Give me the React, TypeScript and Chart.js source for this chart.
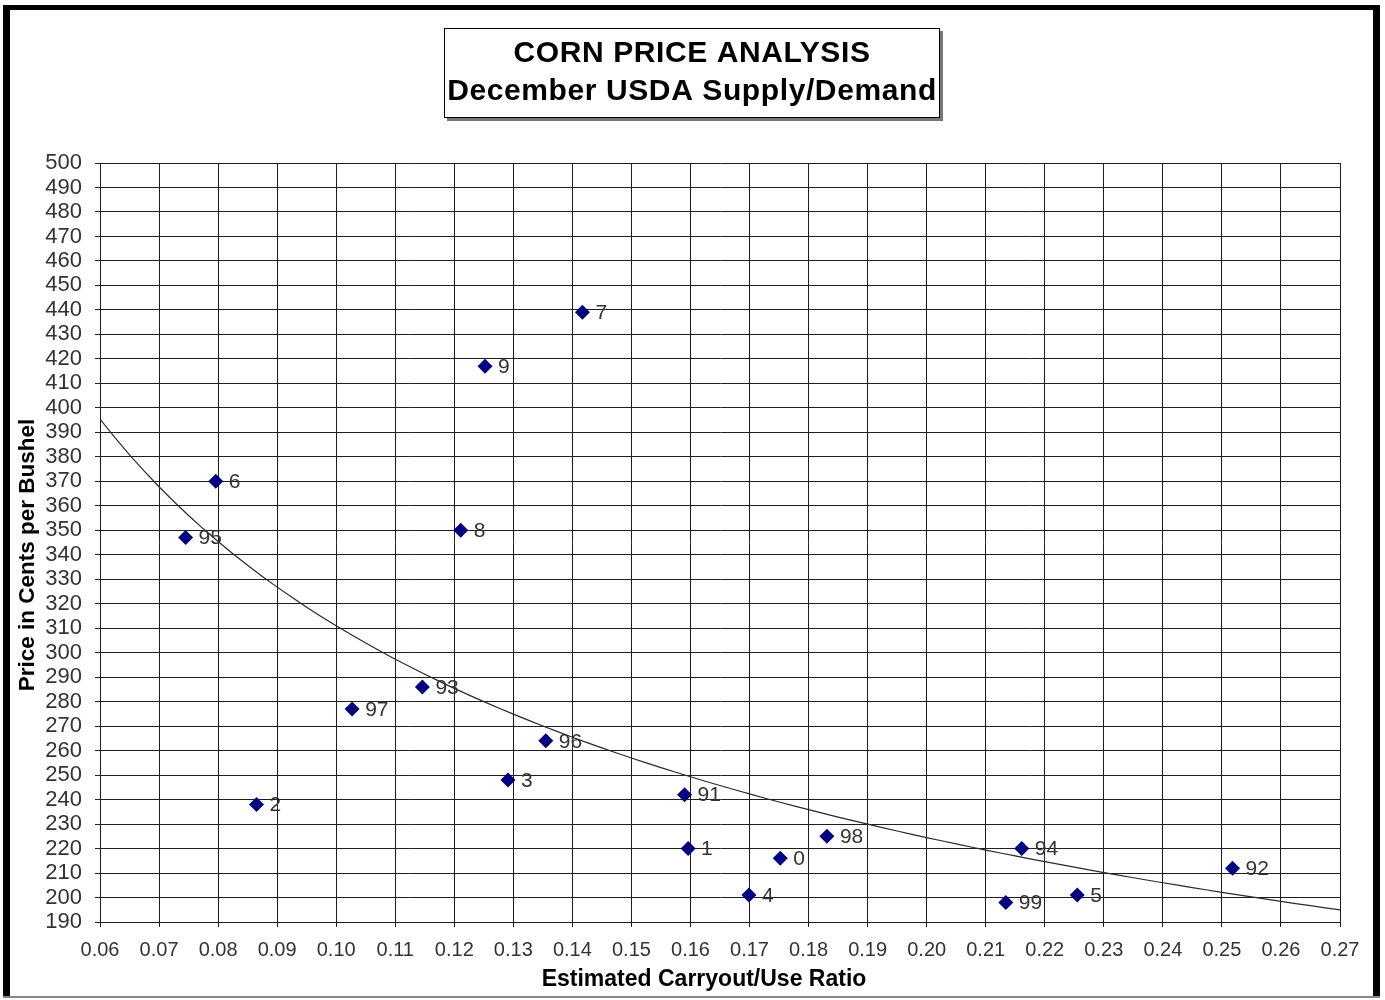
import React, { useEffect, useRef } from "react";
import { Chart, registerables } from "chart.js";

Chart.register(...registerables);

// ---- data ----
const yearLabels = ["7", "9", "6", "95", "8", "93", "97", "96", "3", "2", "91", "1", "0", "98", "4", "99", "94", "5", "92"];
const carryoutRatios = [0.1417, 0.1252, 0.0796, 0.0745, 0.1211, 0.1146, 0.1027, 0.1355, 0.1291, 0.0865, 0.159, 0.1596, 0.1752, 0.1831, 0.1699, 0.2134, 0.2161, 0.2255, 0.2518];
const pricesCents = [439, 417, 370, 347, 350, 286, 277, 264, 248, 238, 242, 220, 216, 225, 201, 198, 220, 201, 212];

const xTickValues = [0.06, 0.07, 0.08, 0.09, 0.1, 0.11, 0.12, 0.13, 0.14, 0.15, 0.16, 0.17, 0.18, 0.19, 0.2, 0.21, 0.22, 0.23, 0.24, 0.25, 0.26, 0.27];
const yTickValues = [190, 200, 210, 220, 230, 240, 250, 260, 270, 280, 290, 300, 310, 320, 330, 340, 350, 360, 370, 380, 390, 400, 410, 420, 430, 440, 450, 460, 470, 480, 490, 500];

const titleLines = ["CORN PRICE ANALYSIS", "December USDA Supply/Demand"];
const xAxisTitle = "Estimated Carryout/Use Ratio";
const yAxisTitle = "Price in Cents per Bushel";

// Power trendline (least squares fit of ln y on ln x), as Excel does
function powerFit(xs: number[], ys: number[]) {
  const n = xs.length;
  const lx = xs.map(Math.log);
  const ly = ys.map(Math.log);
  const mx = lx.reduce((a, b) => a + b, 0) / n;
  const my = ly.reduce((a, b) => a + b, 0) / n;
  let sxy = 0, sxx = 0;
  for (let i = 0; i < n; i++) {
    sxy += (lx[i] - mx) * (ly[i] - my);
    sxx += (lx[i] - mx) * (lx[i] - mx);
  }
  const b = sxy / sxx;
  const a = Math.exp(my - b * mx);
  return { a, b };
}

const FONT = "'Liberation Sans', Arial, Helvetica, sans-serif";
const W = 1385;
const H = 1000;

export default function App() {
  const ref = useRef<HTMLCanvasElement | null>(null);

  useEffect(() => {
    const canvas = ref.current;
    if (!canvas) return;
    const fit = powerFit(carryoutRatios, pricesCents);
    const xMin = xTickValues[0];
    const xMax = xTickValues[xTickValues.length - 1];
    const trend: { x: number; y: number }[] = [];
    const steps = 84;
    for (let i = 0; i <= steps; i++) {
      const x = xMin + ((xMax - xMin) * i) / steps;
      trend.push({ x, y: fit.a * Math.pow(x, fit.b) });
    }

    const framePlugin = {
      id: "frame",
      beforeDraw(chart: any) {
        const ctx = chart.ctx;
        ctx.save();
        ctx.fillStyle = "#ffffff";
        ctx.fillRect(0, 0, W, H);
        ctx.restore();
      },
      afterDraw(chart: any) {
        const ctx = chart.ctx;
        ctx.save();
        // outer frame
        ctx.fillStyle = "#000000";
        ctx.fillRect(3, 5, 1377, 5);
        ctx.fillRect(3, 5, 7, 993);
        ctx.fillRect(1373, 5, 7, 993);
        ctx.fillStyle = "#888888";
        ctx.fillRect(3, 996, 1377, 2);

        // title box
        const bx = 444, by = 28, bw = 496, bh = 90;
        ctx.fillStyle = "#777777";
        ctx.fillRect(bx + 3, by + 3, bw, bh);
        ctx.fillStyle = "#ffffff";
        ctx.fillRect(bx, by, bw, bh);
        ctx.strokeStyle = "#000000";
        ctx.lineWidth = 1;
        ctx.strokeRect(bx + 0.5, by + 0.5, bw - 1, bh - 1);
        ctx.fillStyle = "#000000";
        ctx.textAlign = "center";
        ctx.textBaseline = "middle";
        ctx.font = `bold 30px ${FONT}`;
        try { (ctx as any).letterSpacing = "0.6px"; } catch (e) {}
        ctx.fillText(titleLines[0], 692, 54);
        ctx.fillText(titleLines[1], 692, 92);
        try { (ctx as any).letterSpacing = "0px"; } catch (e) {}

        // axis titles
        ctx.font = `bold 23px ${FONT}`;
        ctx.fillText(xAxisTitle, 704, 980);
        ctx.font = `bold 22.5px ${FONT}`;
        ctx.translate(28, 555);
        ctx.rotate(-Math.PI / 2);
        ctx.fillText(yAxisTitle, 0, 0);
        ctx.restore();
      },
      afterDatasetsDraw(chart: any) {
        const ctx = chart.ctx;
        const meta = chart.getDatasetMeta(0);
        ctx.save();
        ctx.fillStyle = "#333333";
        ctx.font = `21px ${FONT}`;
        ctx.textAlign = "left";
        ctx.textBaseline = "middle";
        meta.data.forEach((pt: any, i: number) => {
          ctx.fillText(yearLabels[i], pt.x + 13, pt.y + 1);
        });
        ctx.restore();
      },
    };

    const gridColor = "#1e1e1e";

    const chart = new Chart(canvas, {
      type: "scatter",
      data: {
        datasets: [
          {
            label: "Price",
            data: carryoutRatios.map((x, i) => ({ x, y: pricesCents[i] })),
            pointStyle: "rectRot",
            pointRadius: 7.5,
            pointBorderWidth: 0,
            backgroundColor: "#000080",
            borderColor: "#000080",
            showLine: false,
          },
          {
            label: "Trend",
            data: trend,
            showLine: true,
            pointRadius: 0,
            borderColor: "#2a2a2a",
            borderWidth: 1.2,
            tension: 0,
            fill: false,
          },
        ],
      },
      options: {
        responsive: false,
        animation: false,
        devicePixelRatio: 1,
        layout: { padding: { left: 10, right: 45, top: 163, bottom: 0 } },
        plugins: {
          legend: { display: false },
          tooltip: { enabled: false },
          title: { display: false },
        },
        scales: {
          x: {
            type: "linear",
            min: xMin,
            max: xMax,
            afterBuildTicks(scale: any) {
              scale.ticks = xTickValues.map((v) => ({ value: v }));
            },
            afterFit(scale: any) {
              scale.height = 78;
            },
            ticks: {
              autoSkip: false,
              maxRotation: 0,
              padding: 11,
              color: "#333333",
              font: { family: FONT, size: 20 },
              callback: (v: any) => Number(v).toFixed(2),
            },
            grid: { color: gridColor, lineWidth: 1, tickLength: 5, tickColor: gridColor },
            border: { color: gridColor, width: 1 },
          },
          y: {
            type: "linear",
            min: yTickValues[0],
            max: yTickValues[yTickValues.length - 1],
            afterBuildTicks(scale: any) {
              scale.ticks = yTickValues.map((v) => ({ value: v }));
            },
            afterFit(scale: any) {
              scale.width = 90;
            },
            ticks: {
              autoSkip: false,
              padding: 13,
              color: "#333333",
              font: { family: FONT, size: 22 },
              callback: (v: any) => String(v),
            },
            grid: { color: gridColor, lineWidth: 1, tickLength: 5, tickColor: gridColor },
            border: { color: gridColor, width: 1 },
          },
        },
      } as any,
      plugins: [framePlugin],
    });

    return () => chart.destroy();
  }, []);

  return (
    <div style={{ position: "fixed", left: 0, top: 0, width: W, height: H, background: "#fff" }}>
      <canvas ref={ref} width={W} height={H} style={{ width: W, height: H, display: "block" }} />
    </div>
  );
}
